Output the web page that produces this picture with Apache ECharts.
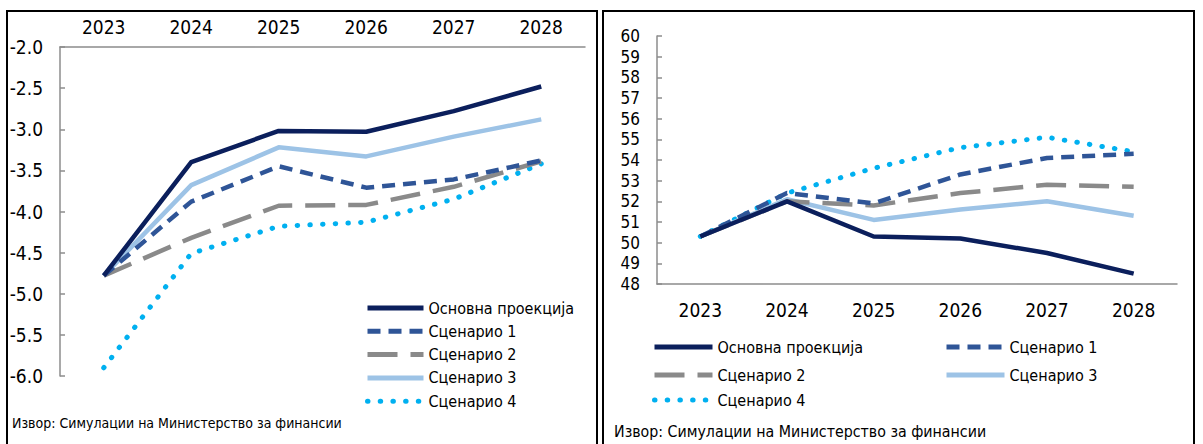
<!DOCTYPE html>
<html>
<head>
<meta charset="utf-8">
<script src="https://cdn.jsdelivr.net/npm/echarts@6/dist/echarts.min.js"></script>
<style>
html,body{margin:0;padding:0;background:#fff;overflow:hidden;width:1203px;height:444px;}
#c1{position:absolute;left:0;top:0;width:601px;height:444px;}
#c2{position:absolute;left:601px;top:0;width:602px;height:444px;}
</style>
</head>
<body>
<div id="c1"></div>
<div id="c2"></div>
<script>
// ---- data ----
const years = ['2023','2024','2025','2026','2027','2028'];
const seriesNames = ['Основна проекција','Сценарио 1','Сценарио 2','Сценарио 3','Сценарио 4'];
const sourceText = 'Извор: Симулации на Министерство за финансии';

// left chart (balance, % of GDP)
const leftBase = [-4.78, -3.40, -3.02, -3.03, -2.78, -2.48];
const leftS1   = [-4.78, -3.88, -3.45, -3.71, -3.61, -3.38];
const leftS2   = [-4.78, -4.32, -3.93, -3.92, -3.70, -3.39];
const leftS3   = [-4.78, -3.68, -3.22, -3.33, -3.09, -2.88];
const leftS4   = [-5.90, -4.51, -4.18, -4.13, -3.85, -3.42];

// right chart (debt, % of GDP)
const rightBase = [50.3, 52.0, 50.3, 50.2, 49.5, 48.5];
const rightS1   = [50.3, 52.4, 51.9, 53.3, 54.1, 54.3];
const rightS2   = [50.3, 52.0, 51.8, 52.4, 52.8, 52.7];
const rightS3   = [50.3, 52.1, 51.1, 51.6, 52.0, 51.3];
const rightS4   = [50.3, 52.4, 53.6, 54.6, 55.1, 54.4];

// ---- styles ----
const FONT = "'Liberation Sans Narrow','Arial Narrow','DejaVu Sans Condensed',sans-serif";
const styles = [
  {color:'#0b1f5c', width:4.5, type:'solid', cap:'butt'},
  {color:'#2f5597', width:4.5, type:[13,8], cap:'butt'},
  {color:'#8a8a8a', width:4.5, type:[30,13], cap:'butt'},
  {color:'#9dc3e6', width:4.5, type:'solid', cap:'butt'},
  {color:'#00b0f0', width:5, type:[0.5,12.2], cap:'round'}
];
const axisColor = '#8c8c8c';

function mkSeries(data){
  return data.map((d,i)=>({
    name: seriesNames[i], type:'line', data:d, symbol:'none', animation:false,
    z: 10-i,
    lineStyle:{color:styles[i].color, width:styles[i].width, type:styles[i].type, cap:styles[i].cap, join:'round'},
    itemStyle:{color:styles[i].color}
  }));
}
const legendText = {fontFamily:FONT, fontSize:16, lineHeight:16, color:'#000'};

const c1 = echarts.init(document.getElementById('c1'), null, {renderer:'svg'});
c1.setOption({
  animation:false,
  grid:{left:60, top:47, right:16, bottom:68, containLabel:false},
  xAxis:{
    type:'category', data:years, position:'top', boundaryGap:true,
    axisLine:{lineStyle:{color:axisColor, width:1.5}},
    axisTick:{inside:true, length:5, lineStyle:{color:axisColor, width:1.5}},
    axisLabel:{fontFamily:FONT, fontSize:19, color:'#000', margin:11}
  },
  yAxis:{
    type:'value', min:-6, max:-2, interval:0.5,
    axisLine:{show:true, lineStyle:{color:axisColor, width:1.5}},
    axisTick:{show:true, inside:true, length:5, lineStyle:{color:axisColor, width:1.5}},
    splitLine:{show:false},
    axisLabel:{fontFamily:FONT, fontSize:19, color:'#000', margin:17, formatter:v=>v.toFixed(1)}
  },
  legend: {
    data: seriesNames, left:360, top:295, orient:'vertical', itemGap:7.3,
    itemWidth:56, itemHeight:14, selectedMode:false,
    itemStyle:{opacity:0},
    lineStyle:{width:5},
    textStyle:legendText
  },
  graphic:[
    {type:'rect', shape:{x:7, y:11, width:590, height:460}, style:{fill:'none', stroke:'#000', lineWidth:2}, silent:true},
    {type:'text', left:12, top:416, style:{text:sourceText, font:"14px "+FONT, fill:'#000'}}
  ],
  series: mkSeries([leftBase,leftS1,leftS2,leftS3,leftS4])
});

const c2 = echarts.init(document.getElementById('c2'), null, {renderer:'svg'});
const lg = (name, left, top)=>({
  data:[name], left:left, top:top, orient:'horizontal',
  itemWidth:58, itemHeight:14, selectedMode:false,
  itemStyle:{opacity:0},
  lineStyle:{width:5},
  textStyle:legendText
});
c2.setOption({
  animation:false,
  grid:{left:56, top:36, right:26, bottom:160, containLabel:false},
  xAxis:{
    type:'category', data:years, boundaryGap:true,
    axisLine:{lineStyle:{color:axisColor, width:1.5}},
    axisTick:{length:5, lineStyle:{color:axisColor, width:1.5}},
    axisLabel:{fontFamily:FONT, fontSize:19, color:'#000', margin:16}
  },
  yAxis:{
    type:'value', min:48, max:60, interval:1,
    axisLine:{show:true, lineStyle:{color:axisColor, width:1.5}},
    axisTick:{show:true, inside:true, length:5, lineStyle:{color:axisColor, width:1.5}},
    splitLine:{show:false},
    axisLabel:{fontFamily:FONT, fontSize:17, lineHeight:17, color:'#000', margin:17}
  },
  legend:[
    lg(seriesNames[0], 46, 334),
    lg(seriesNames[1], 338, 334),
    lg(seriesNames[2], 46, 362),
    lg(seriesNames[3], 338, 362),
    lg(seriesNames[4], 46, 387)
  ],
  graphic:[
    {type:'rect', shape:{x:2, y:11, width:591, height:460}, style:{fill:'none', stroke:'#000', lineWidth:2}, silent:true},
    {type:'text', left:13, top:423, style:{text:sourceText, font:"15.8px "+FONT, fill:'#000'}}
  ],
  series: mkSeries([rightBase,rightS1,rightS2,rightS3,rightS4])
});
</script>
</body>
</html>
